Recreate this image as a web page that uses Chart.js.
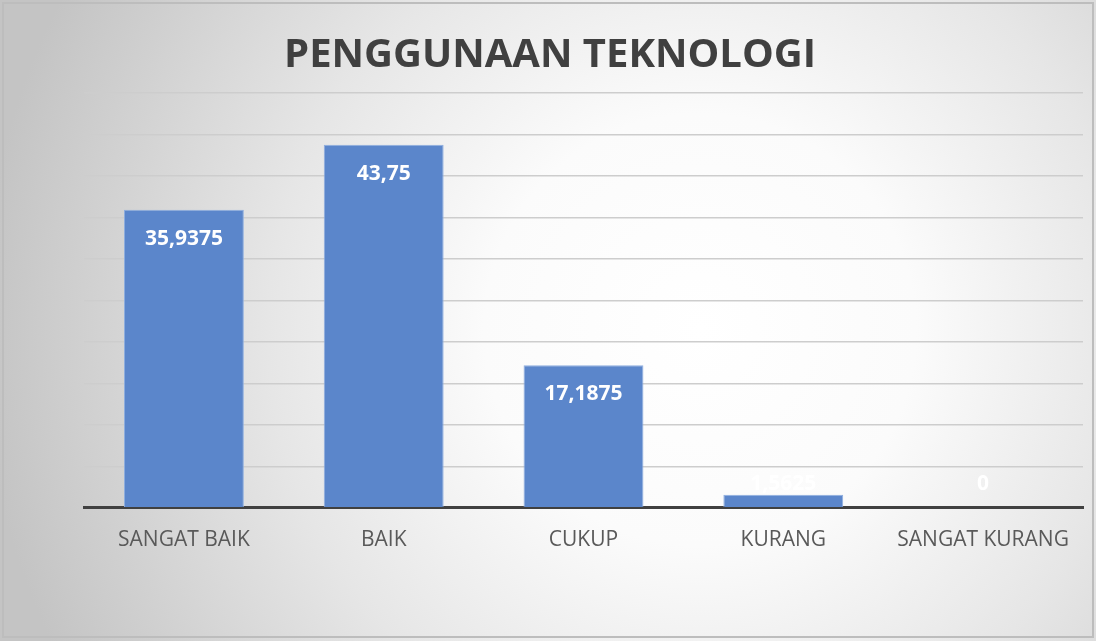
<!DOCTYPE html>
<html>
<head>
<meta charset="utf-8">
<script src="https://cdn.jsdelivr.net/npm/chart.js@4/dist/chart.umd.min.js"></script>
<style>
html,body{margin:0;padding:0;background:#fff;}
#wrap{width:1096px;height:641px;position:relative;}
</style>
</head>
<body>
<div id="wrap"><canvas id="c" width="1096" height="641"></canvas></div>
<script>
const categories = ["SANGAT BAIK", "BAIK", "CUKUP", "KURANG", "SANGAT KURANG"];
const values = [35.9375, 43.75, 17.1875, 1.5625, 0];
const valueLabels = ["35,9375", "43,75", "17,1875", "1,5625", "0"];
const titleText = "PENGGUNAAN TEKNOLOGI";
const yMin = 0, yMax = 50, yStep = 5;

const bgPlugin = {
  id: 'bg',
  beforeDraw(chart) {
    const ctx = chart.ctx, w = chart.width, h = chart.height;
    ctx.save();
    const g = ctx.createRadialGradient(700, 330, 0, 700, 330, 720);
    g.addColorStop(0, '#ffffff');
    g.addColorStop(0.3, '#fbfbfb');
    g.addColorStop(0.6, '#e6e6e6');
    g.addColorStop(1, '#c4c4c4');
    ctx.fillStyle = g;
    ctx.fillRect(0, 0, w, h);
    ctx.strokeStyle = '#bdbdbd';
    ctx.lineWidth = 2;
    ctx.strokeRect(3, 3, w - 6, h - 7);
    ctx.fillStyle = '#404040';
    ctx.font = 'bold 40px "Open Sans"';
    ctx.textAlign = 'center';
    ctx.textBaseline = 'middle';
    ctx.fillText(titleText, 550, 56);
    ctx.restore();
  }
};

const labelPlugin = {
  id: 'vlabels',
  afterDatasetsDraw(chart) {
    const ctx = chart.ctx;
    const meta = chart.getDatasetMeta(0);
    const base = chart.scales.y.getPixelForValue(0);
    ctx.save();
    ctx.fillStyle = '#ffffff';
    ctx.font = 'bold 21px "Open Sans"';
    ctx.textAlign = 'center';
    ctx.textBaseline = 'middle';
    meta.data.forEach((bar, i) => {
      const y = Math.min(bar.y + 29, base - 24);
      ctx.fillText(valueLabels[i], bar.x, y);
    });
    ctx.restore();
  }
};

new Chart(document.getElementById('c'), {
  type: 'bar',
  data: {
    labels: categories,
    datasets: [{
      data: values,
      backgroundColor: '#5b86cb',
      borderColor: '#8eaee0',
      borderWidth: 1,
      barPercentage: 0.6,
      categoryPercentage: 1.0
    }]
  },
  options: {
    responsive: false,
    animation: false,
    devicePixelRatio: 1,
    layout: { padding: { left: 84, right: 13, top: 93, bottom: 68 } },
    plugins: { legend: { display: false }, title: { display: false }, tooltip: { enabled: false } },
    scales: {
      x: {
        grid: { display: false, drawTicks: false },
        border: { display: true, color: '#404040', width: 3 },
        ticks: { color: '#595959', font: { family: 'Open Sans', size: 21 }, padding: 20 }
      },
      y: {
        min: yMin, max: yMax,
        ticks: { display: false, stepSize: yStep },
        grid: { color: '#cdcdcd', lineWidth: 1.5, drawTicks: false },
        border: { display: false }
      }
    }
  },
  plugins: [bgPlugin, labelPlugin]
});
</script>
</body>
</html>
